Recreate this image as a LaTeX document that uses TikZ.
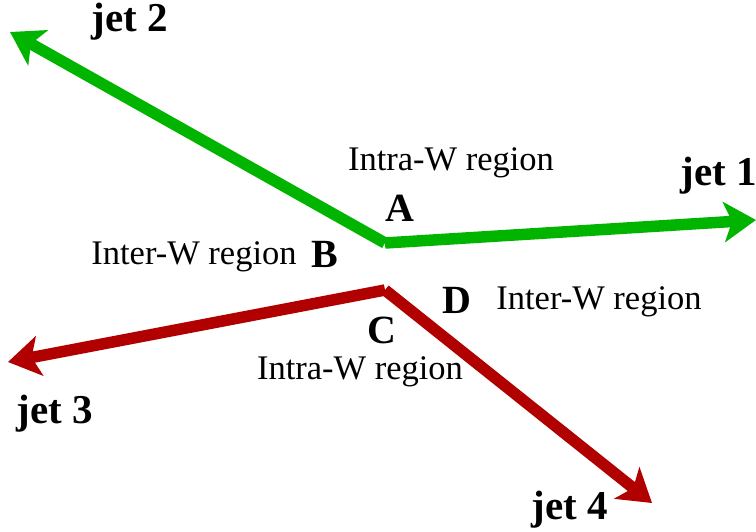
\documentclass[tikz,border=0pt]{standalone}
\usepackage{fontspec}
\setmainfont{Liberation Serif}
\usetikzlibrary{arrows.meta}
\definecolor{jetgreen}{RGB}{0,180,0}
\definecolor{jetred}{RGB}{176,0,0}
\begin{document}
\begin{tikzpicture}[x=1pt,y=-1pt,
  jetline/.style={line width=11.5pt, -{Stealth[length=32pt,width=40pt,inset=8pt]}},
  jetlabel/.style={font=\fontsize{41}{44}\selectfont\bfseries, inner sep=0pt},
  ptlabel/.style={font=\fontsize{40}{44}\selectfont\bfseries, inner sep=0pt},
  region/.style={font=\fontsize{34.5}{38}\selectfont, inner sep=0pt}]
\useasboundingbox (0,0) rectangle (756,531);
% vertices of the two jet pairs
\coordinate (vg) at (385,243);
\coordinate (vr) at (385,290);
% arrow end points
\coordinate (e1) at (756,220);
\coordinate (e2) at (10,32);
\coordinate (e3) at (8,362);
\coordinate (e4) at (652,503);
% jets
\draw[jetline, jetgreen] (vg) -- (e1);
\draw[jetline, jetgreen] (vg) -- (e2);
\draw[jetline, jetred] (vr) -- (e3);
\draw[jetline, jetred] (vr) -- (e4);
% jet labels
\node[jetlabel] (j1) at (719,176) {jet 1};
\node[jetlabel] (j2) at (130,22) {jet 2};
\node[jetlabel] (j3) at (55,414) {jet 3};
\node[jetlabel] (j4) at (570,510) {jet 4};
% point labels
\node[ptlabel] (A) at (400,208) {A};
\node[ptlabel] (B) at (325,254) {B};
\node[ptlabel] (C) at (382,330) {C};
\node[ptlabel] (D) at (457,300) {D};
% region labels
\node[region] (r1) at (451,163) {Intra-W region};
\node[region] (r2) at (194,257) {Inter-W region};
\node[region] (r3) at (599,302) {Inter-W region};
\node[region] (r4) at (360,372) {Intra-W region};
\end{tikzpicture}
\end{document}
